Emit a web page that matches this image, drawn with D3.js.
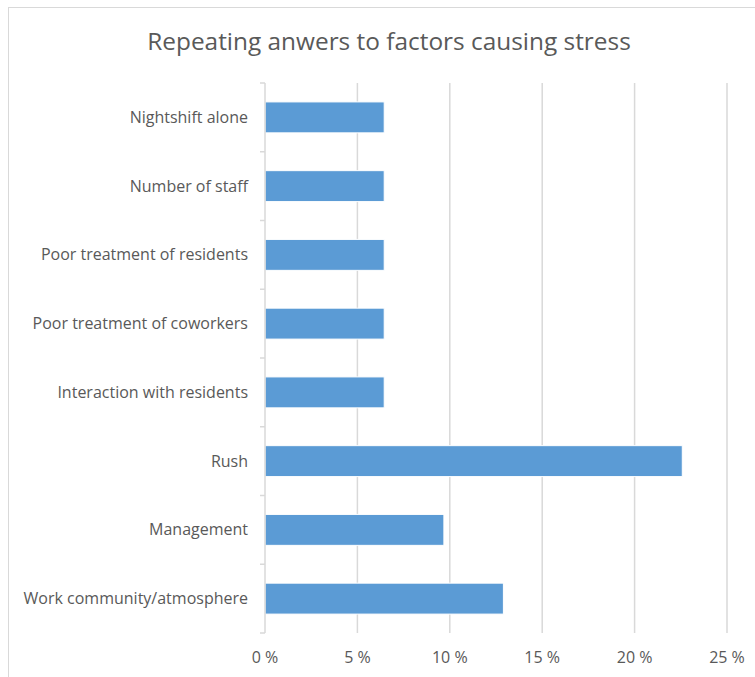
<!DOCTYPE html>
<head>
  <meta charset="utf-8">
  <title>Repeating anwers</title>
  <script src="https://cdn.jsdelivr.net/npm/d3@7"></script>
  <style>
    body { margin: 0; background: #fff; }
    text { font-family: "Open Sans", sans-serif; fill: #595959; }
  </style>
</head>
<body>
<script>
  var WIDTH = 755, HEIGHT = 677;

  // answers out of 31 respondents, as percent
  var categories = ["Nightshift alone", "Number of staff", "Poor treatment of residents",
                    "Poor treatment of coworkers", "Interaction with residents", "Rush",
                    "Management", "Work community/atmosphere"];
  var values = [6.45, 6.45, 6.45, 6.45, 6.45, 22.58, 9.68, 12.9];
  var ticks = [0, 5, 10, 15, 20, 25];

  var svg = d3.select("body").append("svg")
      .attr("width", WIDTH).attr("height", HEIGHT);

  // chart frame
  svg.append("rect")
      .attr("x", 8.5).attr("y", 7.5)
      .attr("width", 760).attr("height", 690)
      .attr("fill", "none").attr("stroke", "#d9d9d9");

  svg.append("text")
      .attr("x", 389).attr("y", 50)
      .attr("text-anchor", "middle")
      .style("font-size", "24.4px")
      .text("Repeating anwers to factors causing stress");

  var x = d3.scaleLinear().domain([0, 25]).range([265, 727]);
  var y = d3.scaleBand().domain(categories).range([83, 633]).paddingInner(0.55).paddingOuter(0.275);

  // gridlines
  svg.append("g").selectAll("line")
      .data(ticks.slice(1))
      .enter().append("line")
      .attr("x1", d => x(d)).attr("x2", d => x(d))
      .attr("y1", 83).attr("y2", 633)
      .attr("stroke", "#d9d9d9").attr("stroke-width", 1.5);

  // bars
  svg.append("g").selectAll("rect")
      .data(values)
      .enter().append("rect")
      .attr("x", x(0))
      .attr("y", (d, i) => y(categories[i]))
      .attr("width", d => x(d) - x(0))
      .attr("height", y.bandwidth())
      .attr("fill", "#5b9bd5")
      .attr("stroke", "#fff").attr("stroke-width", 1);

  // category axis
  var yb = d3.scaleBand().domain(categories).range([83, 633]);
  var ax = svg.append("g");
  ax.append("line")
      .attr("x1", x(0)).attr("x2", x(0)).attr("y1", 83).attr("y2", 633)
      .attr("stroke", "#d9d9d9").attr("stroke-width", 1.5);
  ax.selectAll("line.tk")
      .data(d3.range(categories.length + 1))
      .enter().append("line").attr("class", "tk")
      .attr("x1", x(0) - 5).attr("x2", x(0))
      .attr("y1", i => 83 + i * yb.step()).attr("y2", i => 83 + i * yb.step())
      .attr("stroke", "#d9d9d9").attr("stroke-width", 1.5);
  ax.selectAll("text")
      .data(categories)
      .enter().append("text")
      .attr("x", 248)
      .attr("y", d => yb(d) + yb.bandwidth() / 2)
      .attr("dy", "0.35em")
      .attr("text-anchor", "end")
      .style("font-size", "16px")
      .text(d => d);

  // value axis labels
  svg.append("g").selectAll("text")
      .data(ticks)
      .enter().append("text")
      .attr("x", d => x(d))
      .attr("y", 663)
      .attr("text-anchor", "middle")
      .style("font-size", "16px")
      .text(d => d + " %");
</script>
</body>
